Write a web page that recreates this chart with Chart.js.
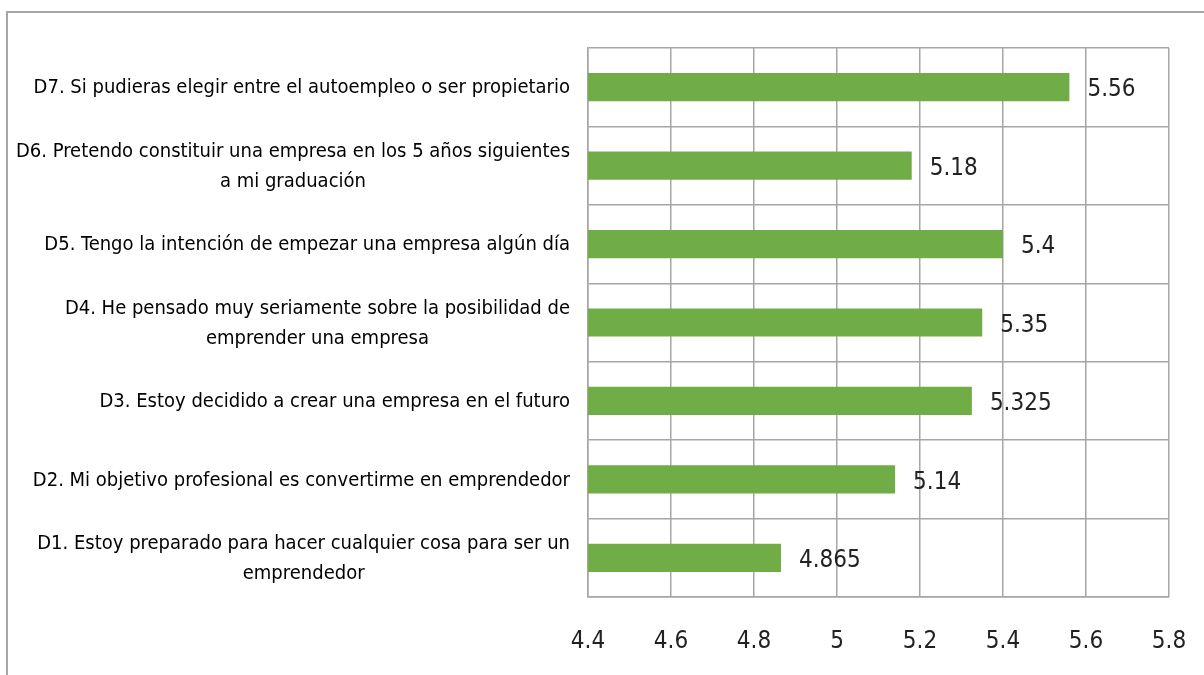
<!DOCTYPE html>
<html>
<head>
<meta charset="utf-8">
<script src="https://cdn.jsdelivr.net/npm/chart.js@4"></script>
<style>
  html, body { margin: 0; padding: 0; background: #fff; }
  #wrap { width: 1204px; height: 675px; position: relative; }
</style>
</head>
<body>
<div id="wrap"><canvas id="myChart"></canvas></div>
<script>
// data
var categories = [
  ["D7. Si pudieras elegir entre el autoempleo o ser propietario"],
  ["D6. Pretendo constituir una empresa en los 5 años siguientes", "a mi graduación"],
  ["D5. Tengo la intención de empezar una empresa algún día"],
  ["D4. He pensado muy seriamente sobre la posibilidad de", "emprender una empresa"],
  ["D3. Estoy decidido a crear una empresa en el futuro"],
  ["D2. Mi objetivo profesional es convertirme en emprendedor"],
  ["D1. Estoy preparado para hacer cualquier cosa para ser un", "emprendedor"]
];
var values = [5.56, 5.18, 5.4, 5.35, 5.325, 5.14, 4.865];
var valueLabels = ["5.56", "5.18", "5.4", "5.35", "5.325", "5.14", "4.865"];
var xMin = 4.4, xMax = 5.8, xStep = 0.2;

var labelFont = '"Liberation Sans Narrow", "DejaVu Sans Condensed", sans-serif';

// outer frame + category labels + value labels
var extras = {
  id: 'extras',
  beforeDraw: function(chart) {
    var c = chart.ctx;
    c.save();
    c.strokeStyle = '#a6a6a6';
    c.lineWidth = 2;
    c.beginPath();
    c.moveTo(7, 675);
    c.lineTo(7, 12);
    c.lineTo(1204, 12);
    c.stroke();
    c.restore();
  },
  afterDraw: function(chart) {
    var c = chart.ctx;
    var yScale = chart.scales.y;
    var meta = chart.getDatasetMeta(0);
    c.save();
    // category labels, block right aligned, lines centred inside block
    c.font = '20px ' + labelFont;
    c.fillStyle = '#000';
    c.textBaseline = 'middle';
    c.textAlign = 'center';
    var lineH = 30;
    categories.forEach(function(lines, i) {
      var w = 0;
      lines.forEach(function(l) { w = Math.max(w, c.measureText(l).width); });
      var cx = 570 - w / 2;
      var cy = yScale.getPixelForTick(i) + 1 - (lines.length - 1) * lineH / 2;
      lines.forEach(function(l, j) { c.fillText(l, cx, cy + j * lineH); });
    });
    // value labels
    c.font = '24px ' + labelFont;
    c.fillStyle = '#222';
    c.textAlign = 'left';
    meta.data.forEach(function(bar, i) {
      c.fillText(valueLabels[i], bar.x + 18, bar.y + 3);
    });
    c.restore();
  }
};

var ctx = document.getElementById("myChart").getContext('2d');
var myChart = new Chart(ctx, {
  type: 'bar',
  data: {
    labels: categories,
    datasets: [{
      data: values,
      backgroundColor: '#70ad47',
      borderWidth: 0,
      categoryPercentage: 1,
      barPercentage: 0.36
    }]
  },
  options: {
    indexAxis: 'y',
    responsive: true,
    maintainAspectRatio: false,
    animation: false,
    layout: { padding: { left: 0, top: 48, right: 35, bottom: 0 } },
    plugins: {
      legend: { display: false },
      tooltip: { enabled: false }
    },
    scales: {
      x: {
        min: xMin,
        max: xMax,
        afterFit: function(scale) {
          scale.height = 78;
          scale.paddingLeft = 0;
          scale.paddingRight = 0;
        },
        afterBuildTicks: function(scale) {
          var t = [];
          for (var k = 0; k <= Math.round((xMax - xMin) / xStep); k++) {
            t.push({ value: +(xMin + k * xStep).toFixed(1) });
          }
          scale.ticks = t;
        },
        ticks: {
          padding: 30,
          color: '#222',
          font: { family: labelFont, size: 24 },
          callback: function(v) { return String(+v.toFixed(1)); }
        },
        grid: { color: '#a6a6a6', lineWidth: 1.5, drawTicks: false },
        border: { color: '#a6a6a6', width: 1.5 }
      },
      y: {
        afterFit: function(scale) { scale.width = 588; },
        ticks: { display: false },
        grid: { color: '#a6a6a6', lineWidth: 1.5, drawTicks: false },
        border: { color: '#a6a6a6', width: 1.5 }
      }
    }
  },
  plugins: [extras]
});
</script>
</body>
</html>
